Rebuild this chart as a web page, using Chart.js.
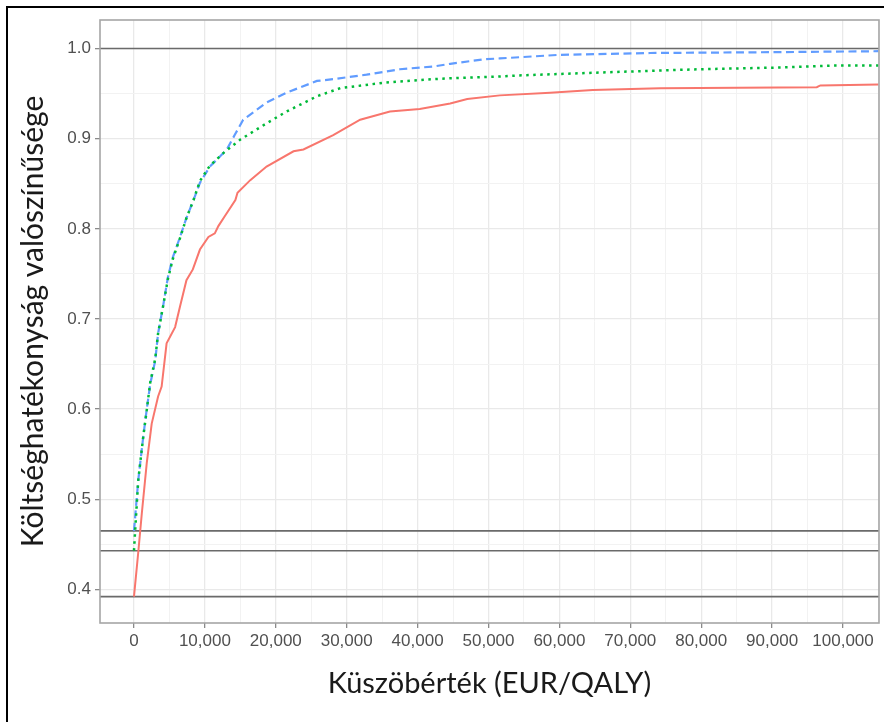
<!DOCTYPE html>
<html>
<head>
<meta charset="utf-8">
<script src="https://cdn.jsdelivr.net/npm/chart.js@4.4.1/dist/chart.umd.min.js"></script>
<style>
  html, body { margin: 0; padding: 0; background: #fff; }
  canvas { display: block; }
</style>
</head>
<body>
<canvas id="ceac" width="884" height="722"></canvas>
<script>
// threshold values (EUR/QALY) and probability of cost-effectiveness, per curve
var redX = [0, 600, 1100, 1800, 2500, 3400, 3900, 4600, 5800, 6500, 7400, 8300, 9300, 10500, 11400, 11900, 12800, 14300, 14600, 16400, 18700, 22500, 23900, 28100, 31900, 36100, 40300, 44600, 47000, 51600, 58700, 64700, 74200, 96300, 96800, 105000];
var redY = [0.392, 0.441, 0.484, 0.540, 0.584, 0.614, 0.625, 0.673, 0.691, 0.714, 0.743, 0.755, 0.777, 0.791, 0.795, 0.803, 0.814, 0.832, 0.840, 0.854, 0.869, 0.886, 0.888, 0.904, 0.921, 0.930, 0.933, 0.939, 0.944, 0.948, 0.951, 0.954, 0.956, 0.957, 0.959, 0.960];

var greenX = [0, 200, 600, 1300, 1800, 2300, 3000, 3400, 4100, 4800, 5500, 6500, 7400, 8400, 9300, 10700, 12600, 15000, 18700, 21500, 25800, 29100, 35200, 42200, 44600, 51600, 54000, 68100, 79800, 91600, 98600, 105000];
var greenY = [0.443, 0.470, 0.521, 0.569, 0.599, 0.630, 0.656, 0.684, 0.714, 0.745, 0.767, 0.790, 0.812, 0.832, 0.853, 0.870, 0.884, 0.899, 0.917, 0.930, 0.947, 0.956, 0.962, 0.966, 0.967, 0.969, 0.970, 0.974, 0.977, 0.979, 0.981, 0.981];

var blueX = [0, 600, 1300, 1800, 2300, 3000, 3400, 4100, 4800, 5500, 6500, 7400, 8400, 9300, 10700, 13100, 14200, 15400, 18700, 21500, 25800, 28100, 32800, 37500, 42200, 44600, 49300, 51600, 60100, 72800, 91600, 105000];
var blueY = [0.465, 0.521, 0.569, 0.600, 0.628, 0.654, 0.684, 0.714, 0.747, 0.769, 0.791, 0.812, 0.832, 0.851, 0.869, 0.888, 0.904, 0.921, 0.940, 0.951, 0.964, 0.966, 0.971, 0.977, 0.980, 0.983, 0.988, 0.989, 0.993, 0.995, 0.996, 0.997];

// horizontal reference lines
var hLines = [1.0, 0.465, 0.443, 0.392];

// ticks
var xTicks = [0, 10000, 20000, 30000, 40000, 50000, 60000, 70000, 80000, 90000, 100000];
var xMinor = [5000, 15000, 25000, 35000, 45000, 55000, 65000, 75000, 85000, 95000, 105000];
var yTicks = [0.4, 0.5, 0.6, 0.7, 0.8, 0.9, 1.0];
var yMinor = [0.45, 0.55, 0.65, 0.75, 0.85, 0.95];

var xMin = -4793, xMax = 105075;
var yMin = 0.3628, yMax = 1.0316;

function toPoints(xs, ys) {
    return xs.map(function (x, i) { return { x: x, y: ys[i] }; });
}

function isMajor(list, v) {
    return list.some(function (t) { return Math.abs(t - v) < 1e-6; });
}

function buildTicks(major, minor) {
    return major.concat(minor).sort(function (a, b) { return a - b; })
        .map(function (v) { return { value: v }; });
}

var curves = [
    { label: 'red', data: toPoints(redX, redY), borderColor: '#F8766D', borderWidth: 2, borderDash: [] },
    { label: 'green', data: toPoints(greenX, greenY), borderColor: '#00BA38', borderWidth: 2.5, borderDash: [2.5, 4.5] },
    { label: 'blue', data: toPoints(blueX, blueY), borderColor: '#619CFF', borderWidth: 2.2, borderDash: [8, 4.5] }
];

var datasets = curves.map(function (c) {
    return {
        label: c.label,
        data: c.data,
        borderColor: c.borderColor,
        borderWidth: c.borderWidth,
        borderDash: c.borderDash,
        pointRadius: 0,
        tension: 0,
        fill: false
    };
});

hLines.forEach(function (v) {
    datasets.push({
        label: 'h' + v,
        data: [{ x: xMin, y: v }, { x: xMax, y: v }],
        borderColor: '#6a6a6a',
        borderWidth: 1.6,
        pointRadius: 0,
        fill: false
    });
});

// panel border + outer frame
var framePlugin = {
    id: 'frame',
    afterDraw: function (chart) {
        var ctx = chart.ctx, a = chart.chartArea;
        ctx.save();
        ctx.strokeStyle = '#a6a6a6';
        ctx.lineWidth = 1.6;
        ctx.strokeRect(a.left, a.top, a.right - a.left, a.bottom - a.top);
        ctx.strokeStyle = '#000';
        ctx.lineWidth = 2;
        ctx.beginPath();
        ctx.moveTo(7, 722);
        ctx.lineTo(7, 7);
        ctx.lineTo(884, 7);
        ctx.stroke();
        ctx.restore();
    }
};

new Chart(document.getElementById('ceac'), {
    type: 'line',
    data: { datasets: datasets },
    plugins: [framePlugin],
    options: {
        responsive: false,
        animation: false,
        devicePixelRatio: 1,
        layout: { padding: { left: 0, top: 20, right: 5, bottom: 0 } },
        plugins: { legend: { display: false }, tooltip: { enabled: false } },
        scales: {
            x: {
                type: 'linear',
                min: xMin,
                max: xMax,
                afterBuildTicks: function (scale) { scale.ticks = buildTicks(xTicks, xMinor); },
                afterFit: function (scale) { scale.height = 99; },
                border: { display: false },
                grid: {
                    color: function (c) { return isMajor(xTicks, c.tick.value) ? '#e9e9e9' : '#f2f2f2'; },
                    lineWidth: function (c) { return isMajor(xTicks, c.tick.value) ? 1.3 : 1; },
                    tickColor: function (c) { return isMajor(xTicks, c.tick.value) ? '#8a8a8a' : 'rgba(0,0,0,0)'; },
                    tickLength: 5
                },
                ticks: {
                    autoSkip: false,
                    maxRotation: 0,
                    padding: 3,
                    color: '#505050',
                    font: { family: 'Liberation Sans', size: 17 },
                    callback: function (v) { return isMajor(xTicks, v) ? v.toLocaleString('en-US') : ''; }
                },
                title: {
                    display: true,
                    text: 'Küszöbérték (EUR/QALY)',
                    color: '#1a1a1a',
                    font: { family: 'Lato', size: 29 },
                    padding: { top: 0, bottom: 21 }
                }
            },
            y: {
                type: 'linear',
                min: yMin,
                max: yMax,
                afterBuildTicks: function (scale) { scale.ticks = buildTicks(yTicks, yMinor); },
                afterFit: function (scale) { scale.width = 100; },
                border: { display: false },
                grid: {
                    color: function (c) { return isMajor(yTicks, c.tick.value) ? '#e9e9e9' : '#f2f2f2'; },
                    lineWidth: function (c) { return isMajor(yTicks, c.tick.value) ? 1.3 : 1; },
                    tickColor: function (c) { return isMajor(yTicks, c.tick.value) ? '#8a8a8a' : 'rgba(0,0,0,0)'; },
                    tickLength: 5
                },
                ticks: {
                    autoSkip: false,
                    padding: 4,
                    color: '#505050',
                    font: { family: 'Liberation Sans', size: 17 },
                    callback: function (v) { return isMajor(yTicks, v) ? v.toFixed(1) : ''; }
                },
                title: {
                    display: true,
                    text: 'Költséghatékonyság valószínűsége',
                    color: '#1a1a1a',
                    font: { family: 'Lato', size: 30 },
                    padding: { top: 15, bottom: 0 }
                }
            }
        }
    }
});
</script>
</body>
</html>
